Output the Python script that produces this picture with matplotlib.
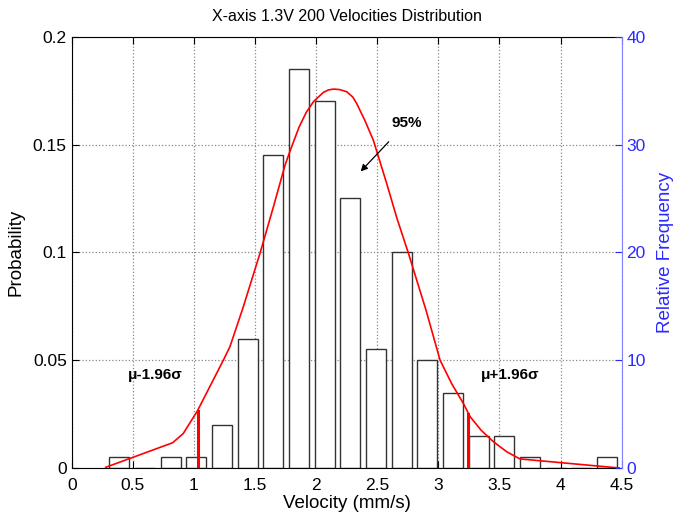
import matplotlib
matplotlib.use("Agg")
import matplotlib.pyplot as plt
import numpy as np

plt.rcParams['font.family'] = ['Liberation Sans', 'DejaVu Sans']

bin_centers = [0.39, 0.60, 0.81, 1.02, 1.23, 1.44, 1.65, 1.86, 2.07, 2.28,
               2.49, 2.70, 2.91, 3.12, 3.33, 3.54, 3.75, 3.96, 4.17, 4.38]
probabilities = [0.005, 0.0, 0.005, 0.005, 0.02, 0.06, 0.145, 0.185, 0.17, 0.125,
                 0.055, 0.10, 0.05, 0.035, 0.015, 0.015, 0.005, 0.0, 0.0, 0.005]

curve_x = [0.278, 0.826, 0.913, 1.028, 1.241, 1.295, 1.40, 1.541, 1.65, 1.746,
           1.79, 1.86, 1.92, 1.98, 2.06, 2.10, 2.141, 2.19, 2.25, 2.30, 2.332,
           2.40, 2.468, 2.577, 2.66, 2.755, 2.90, 3.014, 3.11, 3.204, 3.26,
           3.35, 3.45, 3.56, 3.667, 4.48]
curve_y = [0.0003, 0.0117, 0.016, 0.0264, 0.050, 0.0563, 0.074, 0.0996, 0.121, 0.1405,
           0.1475, 0.158, 0.165, 0.170, 0.1742, 0.1753, 0.1757, 0.1755, 0.1745, 0.172, 0.169,
           0.161, 0.152, 0.132, 0.116, 0.0996, 0.073, 0.050, 0.039, 0.030, 0.0238,
           0.0175, 0.0122, 0.0075, 0.0042, 0.0]

ci_x = [1.035, 3.246]
ci_y = [0.0264, 0.0249]

fig = plt.figure(figsize=(6.88, 5.19), dpi=100)
ax = fig.add_axes([0.1042, 0.0983, 0.7994, 0.831])

ax.bar(bin_centers, probabilities, width=0.165, facecolor='white',
       edgecolor='#333333', linewidth=1.0, zorder=2)
ax.plot(curve_x, curve_y, color='red', linewidth=1.2, zorder=3)
for xv, yv in zip(ci_x, ci_y):
    ax.plot([xv, xv], [0, yv], color='red', linewidth=2.2, zorder=3)

ax.set_xlim(0, 4.5)
ax.set_ylim(0, 0.2)
ax.set_xticks(np.arange(0, 4.51, 0.5))
ax.set_xticklabels(['0', '0.5', '1', '1.5', '2', '2.5', '3', '3.5', '4', '4.5'])
ax.set_yticks([0, 0.05, 0.1, 0.15, 0.2])
ax.set_yticklabels(['0', '0.05', '0.1', '0.15', '0.2'])
ax.grid(True, linestyle=':', color='#888888', linewidth=0.9, zorder=0)
ax.set_axisbelow(True)
ax.tick_params(direction='in', length=5, labelsize=12.5, top=True, right=False)
ax.tick_params(axis='x', pad=7)
ax.set_xlabel('Velocity (mm/s)', fontsize=13.5, labelpad=2)
ax.set_ylabel('Probability', fontsize=13.5, labelpad=6)
ax.set_title('X-axis 1.3V 200 Velocities Distribution', fontsize=11.5, pad=11)
ax.spines['right'].set_visible(False)

ax.annotate('95%', xy=(2.364, 0.1375), xytext=(2.74, 0.160),
            fontsize=11, fontweight='bold', ha='center', va='center',
            arrowprops=dict(arrowstyle='-|>', color='black', lw=0.9,
                            shrinkA=9, shrinkB=0, mutation_scale=10))
ax.text(0.685, 0.043, 'μ-1.96σ', fontsize=11, fontweight='bold', ha='center', va='center')
ax.text(3.59, 0.043, 'μ+1.96σ', fontsize=11, fontweight='bold', ha='center', va='center')

ax2 = ax.twinx()
ax2.set_ylim(0, 40)
ax2.set_yticks([0, 10, 20, 30, 40])
ax2.tick_params(direction='in', length=5, labelsize=12.5, colors='#2a2aff')
ax2.spines['right'].set_color('#8080ff')
ax2.spines['left'].set_visible(False)
ax2.spines['top'].set_visible(False)
ax2.spines['bottom'].set_visible(False)
ax2.set_ylabel('Relative Frequency', fontsize=13.5, color='#2a2aff', labelpad=8)

fig.savefig('out.png', dpi=100)
